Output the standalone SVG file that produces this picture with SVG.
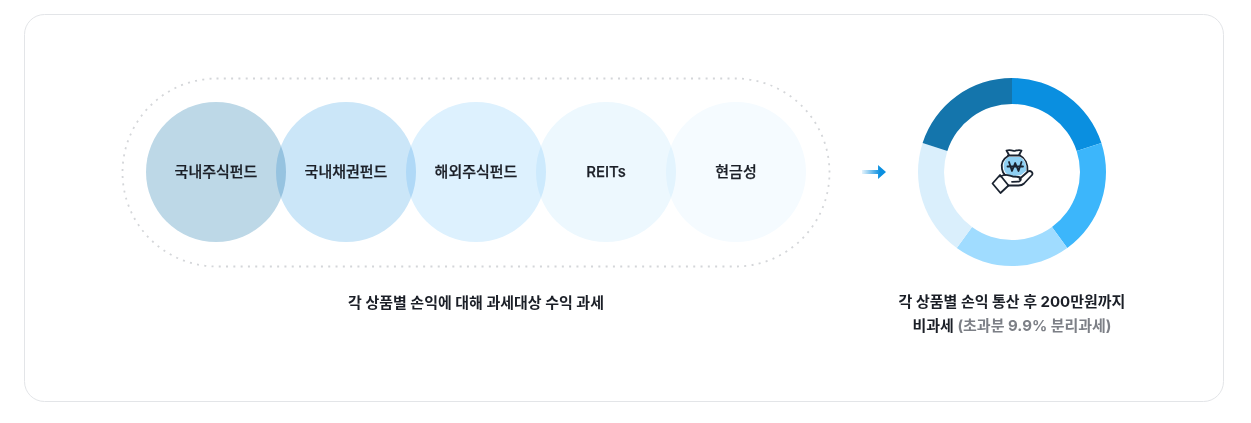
<svg xmlns="http://www.w3.org/2000/svg" width="1251" height="423" viewBox="0 0 1251 423">
<style>
text{font-family:Inter,"Noto Sans CJK KR","Noto Sans",sans-serif;text-anchor:middle;fill:#1b1f27}
.n{font-size:15px;font-weight:500;stroke:#1b1f27;stroke-width:.25}
.b{font-size:15px;font-weight:700}
.g{fill:#7c7f86}
.c{mix-blend-mode:multiply}
.i{fill:none;stroke:#1a2330;stroke-width:1.8;stroke-linecap:round;stroke-linejoin:round}
</style>
<defs>
<linearGradient id="ag" gradientUnits="userSpaceOnUse" x1="862" x2="880" y1="0" y2="0"><stop offset="0" stop-color="#0a8fe0" stop-opacity="0.1"/><stop offset="1" stop-color="#0a8fe0"/></linearGradient>
</defs>
<rect width="1251" height="423" fill="#fff"/>
<rect id="card" x="24.5" y="14.5" width="1199" height="387" rx="20" fill="#fff" stroke="#e3e5e8"/>
<rect id="group-outline" x="122.500" y="78.500" width="707" height="188" rx="94" fill="none" stroke="#d4d6d9" stroke-width="1.800" stroke-dasharray="2 5.300"/>
<g id="node-1"><circle class="c" cx="216" cy="172" r="70" fill="#bdd8e7"/><text class="n" x="216" y="177">국내주식펀드</text></g>
<g id="node-2"><circle class="c" cx="346" cy="172" r="70" fill="#cbe6f8"/><text class="n" x="346" y="177">국내채권펀드</text></g>
<g id="node-3"><circle class="c" cx="476" cy="172" r="70" fill="#ddf1fe"/><text class="n" x="476" y="177">해외주식펀드</text></g>
<g id="node-4"><circle class="c" cx="606" cy="172" r="70" fill="#edf8fe"/><text class="n" x="606" y="177">REITs</text></g>
<g id="node-5"><circle class="c" cx="736" cy="172" r="70" fill="#f5fbff"/><text class="n" x="736" y="177">현금성</text></g>
<text class="b" x="476" y="308">각 상품별 손익에 대해 과세대상 수익 과세</text>
<g id="connectors">
<path d="M862 170H878V165L886 172L878 179V174H862Z" fill="url(#ag)"/>
</g>
<g id="donut">
<path d="M1012 78A94 94 0 0 1 1101.400 142.950L1076.670 150.990A68 68 0 0 0 1012 104Z" fill="#0a8fe0"/>
<path d="M1101.400 142.950A94 94 0 0 1 1067.250 248.050L1051.970 227.010A68 68 0 0 0 1076.670 150.990Z" fill="#3cb6fb"/>
<path d="M1067.250 248.050A94 94 0 0 1 956.750 248.050L972.030 227.010A68 68 0 0 0 1051.970 227.010Z" fill="#a0dcff"/>
<path d="M956.750 248.050A94 94 0 0 1 922.600 142.950L947.330 150.990A68 68 0 0 0 972.030 227.010Z" fill="#daeffc"/>
<path d="M922.600 142.950A94 94 0 0 1 1012 78L1012 104A68 68 0 0 0 947.330 150.990Z" fill="#1475ac"/>
</g>
<g id="icon">
<path d="M1008 157C1004 160 1003 165 1004 169C1005 174 1009 176 1015 176L1021 175L1026 171C1027 164 1024 159 1020 157Z" fill="#8fd0f3"/>
<path class="i" d="M1008 156C1003 159 1001 164 1002 169C1002.500 172 1003.500 173.500 1005 175"/>
<path class="i" d="M1020 155.500C1025 158 1028 164 1027.500 171"/>
<path class="i" d="M1008 155.500H1020M1009 155L1006.500 150.500C1010 149.500 1012.500 150.500 1014.500 151C1016.500 150.500 1018.500 149.500 1021.500 150.500L1019 155"/>
<path class="i" d="M1009 162L1012 171L1015.200 163L1018.500 171L1021.500 162M1007.500 166.500H1023"/>
<path class="i" d="M1000 176.500L1004 175C1007 174 1010 176 1013 176.500L1019 177C1021.500 177.500 1021.500 181 1019 181.500L1012 181.800M1019.500 179L1028 171.500C1030.500 170 1033.500 172.500 1032 175L1024 183.500C1022.500 185 1021 185.500 1018.500 185.500H1008"/>
<path class="i" d="M1000 175L1008.500 185.500L1000.500 193L992.500 183.500Z"/>
</g>
<g id="note">
<text class="b" x="1012" y="307">각 상품별 손익 통산 후 200만원까지</text>
<text class="b" x="1012" y="331">비과세 <tspan class="g">(초과분 9.9% 분리과세)</tspan></text>
</g>
</svg>
